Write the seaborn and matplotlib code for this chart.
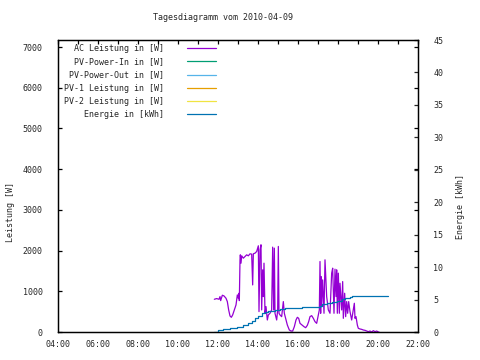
import matplotlib
matplotlib.use("Agg")
import matplotlib.pyplot as plt
import seaborn as sns
import pandas as pd
from matplotlib.ticker import MultipleLocator, FuncFormatter

# ---- data ----
ac_time = ["11:49","11:56","12:03","12:06","12:08","12:13","12:18","12:24","12:28","12:32",
           "12:36","12:40","12:44","12:49","12:54","12:58","13:01","13:03","13:04","13:06",
           "13:07","13:09","13:11","13:16","13:21","13:26","13:31","13:36","13:41","13:44",
           "13:46","13:51","13:56","13:59","14:01","14:03","14:06","14:09","14:11","14:14",
           "14:16","14:18","14:21","14:24","14:28","14:31","14:36","14:41","14:44","14:47",
           "14:49","14:51","14:56","14:59","15:01","15:03","15:06","15:11","15:16","15:19",
           "15:24","15:28","15:34","15:39","15:44","15:49","15:54","15:58","16:02","16:06",
           "16:12","16:18","16:23","16:28","16:32","16:36","16:41","16:46","16:51","16:56",
           "17:00","17:04","17:06","17:08","17:09","17:11","17:14","17:18","17:21","17:26",
           "17:31","17:36","17:41","17:44","17:48","17:51","17:54","17:56","17:58","18:01",
           "18:04","18:06","18:11","18:14","18:16","18:20","18:23","18:26","18:29","18:32",
           "18:36","18:41","18:46","18:49","18:51","18:54","18:58","19:01","19:06","19:11",
           "19:16","19:21","19:26","19:31","19:36","19:41","19:46","19:51","19:56","20:01",
           "20:03"]
ac_watt = [804,821,804,870,771,903,886,829,747,542,
           394,361,419,542,665,911,829,952,771,1773,
           1896,1691,1872,1814,1855,1896,1872,1921,1913,1157,
           1921,1937,1978,2060,2118,501,2019,2143,542,1527,
           870,1691,460,624,295,419,460,542,2085,542,
           2060,460,295,542,2102,460,419,377,747,460,
           295,172,49,24,24,131,295,361,336,213,
           172,131,106,164,254,377,402,336,254,213,
           377,542,1732,460,1363,624,1281,460,1773,870,
           542,460,1445,1568,460,1543,870,1527,460,1445,
           460,1198,542,1239,336,952,377,747,460,747,
           501,295,542,706,336,377,172,90,74,65,
           49,41,24,8,24,0,33,8,24,0,
           0]

en_time = ["11:49","12:01","12:16","12:36","12:56","13:16","13:31","13:41","13:51","14:01",
           "14:11","14:21","14:31","14:51","15:06","15:21","15:51","16:11","16:36","17:06",
           "17:11","17:26","17:41","17:56","18:11","18:21","18:36","18:41","20:29"]
en_kwh = [0.0,0.31,0.46,0.57,0.82,1.08,1.44,1.75,2.11,2.47,
          2.88,3.13,3.29,3.39,3.49,3.65,3.65,3.80,3.90,4.01,
          4.31,4.42,4.67,4.83,5.09,5.19,5.44,5.50,5.50]

labels = ["AC Leistung in [W]", "PV-Power-In in [W]", "PV-Power-Out in [W]",
          "PV-1 Leistung in [W]", "PV-2 Leistung in [W]", "Energie in [kWh]"]
colors = ["#9400D3", "#009E73", "#56B4E9", "#E69F00", "#F0E442", "#0072B2"]

x_ticks = [4, 6, 8, 10, 12, 14, 16, 18, 20, 22]


def to_hours(ts):
    return [int(t[:2]) + int(t[3:]) / 60 for t in ts]


ac_df = pd.DataFrame({"h": to_hours(ac_time), "w": ac_watt})
en_df = pd.DataFrame({"h": to_hours(en_time), "e": en_kwh})

sns.set_style("white")
plt.rcParams["font.family"] = ["DejaVu Sans Mono", "DejaVu Sans"]
plt.rcParams["font.size"] = 6

fig = plt.figure(figsize=(4.8, 3.6), dpi=100)
ax = fig.add_axes([58/480, 1-332/360, 360/480, 292/360])
ax2 = ax.twinx()

sns.lineplot(data=ac_df, x="h", y="w", ax=ax, color=colors[0], lw=0.9,
             label=labels[0], legend=False, estimator=None, sort=False)
for lab, col in zip(labels[1:5], colors[1:5]):
    ax.plot([], [], color=col, lw=0.9, label=lab)
sns.lineplot(data=en_df, x="h", y="e", ax=ax2, color=colors[5], lw=0.9,
             drawstyle="steps-post", legend=False, estimator=None, sort=False)
ax.plot([], [], color=colors[5], lw=0.9, label=labels[5])

ax.set_xlim(4, 22)
ax.set_ylim(0, 7174)
ax2.set_ylim(0, 45)
ax.set_xticks(x_ticks)
ax.xaxis.set_minor_locator(MultipleLocator(1))
ax.xaxis.set_major_formatter(FuncFormatter(lambda v, p: f"{int(round(v)):02d}:00"))
ax.yaxis.set_major_locator(MultipleLocator(1000))
ax2.yaxis.set_major_locator(MultipleLocator(5))

ax.tick_params(axis="both", which="both", direction="in", length=3, width=0.9,
               top=True, right=True, labelsize=6, color="black")
ax.tick_params(axis="y", pad=11)
ax.tick_params(axis="x", pad=6)
ax2.tick_params(axis="y", direction="in", length=3, width=0.9, pad=11, labelsize=6)

ax.set_xlabel("")
ax.set_ylabel("Leistung [W]", fontsize=6)
ax2.set_xlabel("")
ax2.set_ylabel("Energie [kWh]", fontsize=6)
ax.yaxis.set_label_coords(-0.119, 0.41)
ax2.yaxis.set_label_coords(1.105, 0.43)

for a in (ax, ax2):
    for s in a.spines.values():
        s.set_color("black")
        s.set_linewidth(0.9)
        s.set_visible(True)

fig.text(223/480, 1-17/360, "Tagesdiagramm vom 2010-04-09", ha="center", va="center", fontsize=6)

leg = ax.legend(loc="upper left", bbox_to_anchor=(0.005, 1.0), frameon=False,
                markerfirst=False, alignment="right", handlelength=3.4,
                handletextpad=2.8, labelspacing=0.5, borderaxespad=0.1, fontsize=6)

fig.savefig("out.png", dpi=100)
